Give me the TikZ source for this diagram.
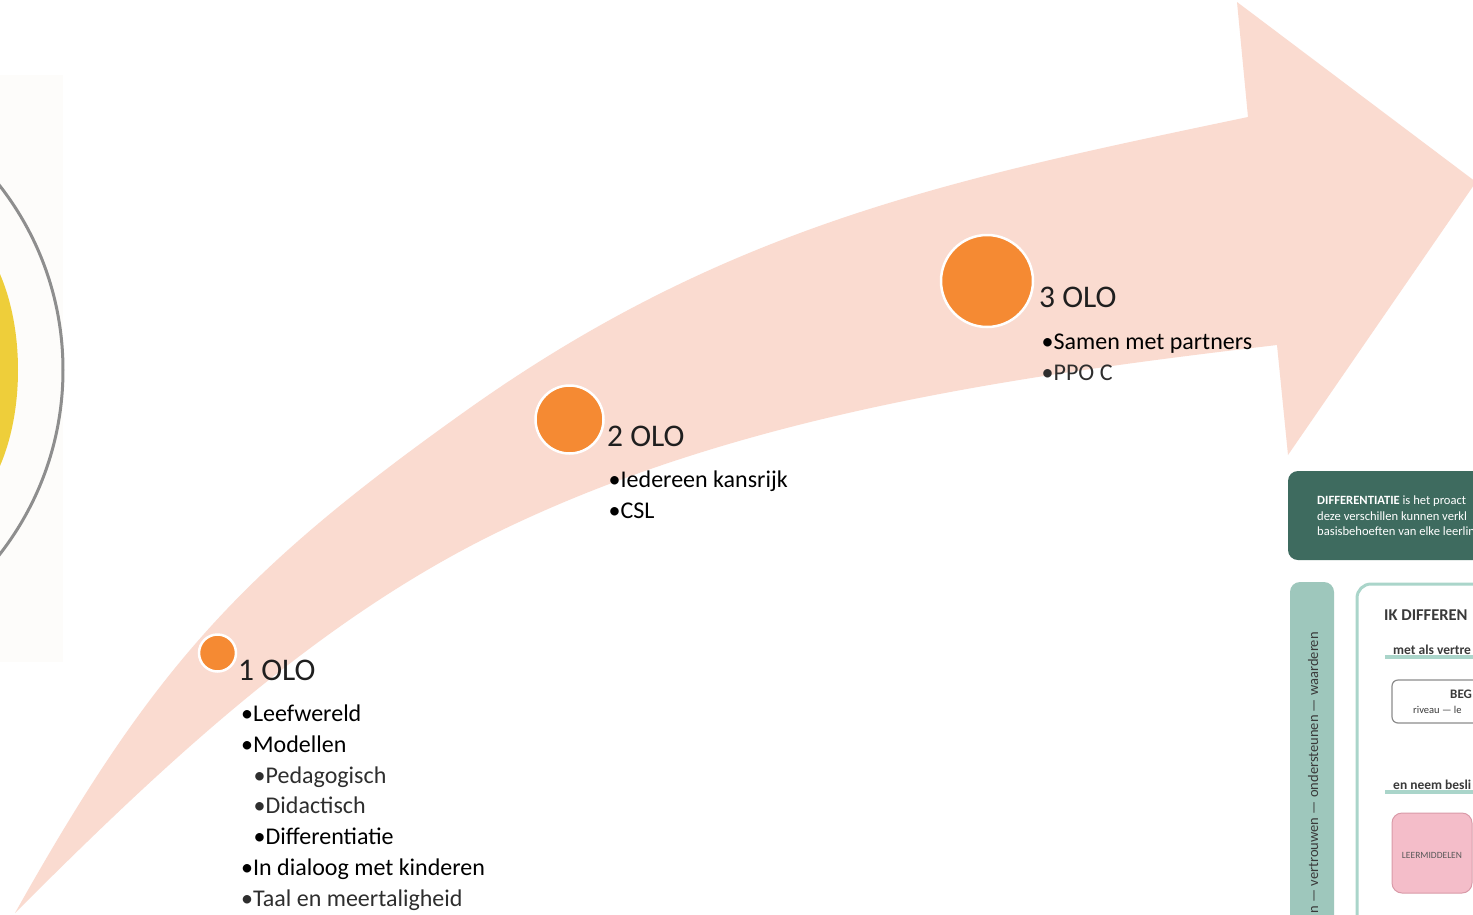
\documentclass[tikz,border=0pt]{standalone}
\usepackage{fontspec}
\setmainfont{Carlito}
\definecolor{arrowpink}{HTML}{FADBD0}
\definecolor{olorange}{HTML}{F58A33}
\definecolor{ringgray}{HTML}{8E8E8E}
\definecolor{sunyellow}{HTML}{EECE3A}
\definecolor{offwhite}{HTML}{FDFCFA}
\definecolor{darkgreen}{HTML}{3E6B5F}
\definecolor{tealbar}{HTML}{9EC7BC}
\definecolor{tealline}{HTML}{AAD5CA}
\definecolor{pinkbox}{HTML}{F4BDC9}
\definecolor{pinkedge}{HTML}{D99AA8}
\definecolor{txtgray}{HTML}{3A3A3A}
\begin{document}
\begin{tikzpicture}[x=1pt,y=-1pt,
  dot/.style={circle, fill=olorange, draw=white, line width=2.5pt, inner sep=0pt},
  ttl/.style={anchor=base west, inner sep=0pt, font=\fontsize{31.5}{31.5}\selectfont, text=black!88},
  itm/.style={anchor=base west, inner sep=0pt, font=\fontsize{24}{24}\selectfont, text=black},
  lite/.style={text=black!82},
  small/.style={anchor=base west, inner sep=0pt, font=\fontsize{13}{13}\selectfont, text=txtgray},
  gtext/.style={anchor=base west, inner sep=0pt, font=\fontsize{12.6}{12.6}\selectfont, text=white}]
\useasboundingbox (0,0) rectangle (1473,914);
\clip (0,0) rectangle (1473,914);
\fill[white] (0,0) rectangle (1473,914);
% left partial image
\fill[offwhite] (0,75) rectangle (63,662);
\fill[sunyellow] (-60,370) ellipse [x radius=78pt, y radius=150pt];
\draw[ringgray, line width=3pt] (-237,370) circle (300pt);
% arrow
\fill[arrowpink] (15,913) .. controls (152,669) and (239,572) .. (467,410)
  .. controls (727.8,224.7) and (954.3,178.5) .. (1248,117)
  -- (1237,2) -- (1476,182) -- (1288,455) -- (1277,345)
  .. controls (1012.9,376.1) and (739.4,415) .. (500,531)
  .. controls (315.5,620.4) and (160,768) .. (15,913) -- cycle;
% milestones
\node[dot, minimum size=37pt] (c1) at (217.5,653) {};
\node[dot, minimum size=68pt] (c2) at (569.5,419.5) {};
\node[dot, minimum size=92pt] (c3) at (987,281) {};
\node[ttl] (t1) at (238,680) {1 OLO};
\node[ttl] (t2) at (607,446) {2 OLO};
\node[ttl] (t3) at (1039,307) {3 OLO};
\node[itm] (a1) at (241,721.5) {•Leefwereld};
\node[itm] (a2) at (241,752.3) {•Modellen};
\node[itm, lite] (a3) at (253.5,783.1) {•Pedagogisch};
\node[itm, lite] (a4) at (253.5,813.9) {•Didactisch};
\node[itm] (a5) at (253.5,844.7) {•Differentiatie};
\node[itm] (a6) at (241,875.5) {•In dialoog met kinderen};
\node[itm, lite] (a7) at (241,906.3) {•Taal en meertaligheid};
\node[itm] (b1) at (608.5,487.7) {•Iedereen kansrijk};
\node[itm] (b2) at (608.5,518) {•CSL};
\node[itm] (d1) at (1041.5,349) {•Samen met partners};
\node[itm, lite] (d2) at (1041.5,380) {•PPO C};
% bottom-right partial image
\fill[darkgreen, rounded corners=10pt] (1288,471) rectangle (1520,560);
\node[gtext] (g1) at (1317,504) {\textbf{DIFFERENTIATIE} is het proact};
\node[gtext] (g2) at (1317,520) {deze verschillen kunnen verkl};
\node[gtext] (g3) at (1317,535) {basisbehoeften van elke leerlin};
\fill[tealbar, rounded corners=10pt] (1290,582) rectangle (1334,960);
\node[small, font=\fontsize{14.5}{14.5}\selectfont, rotate=90, anchor=base east] (vt) at (1318,632) {n — vertrouwen — ondersteunen — waarderen};
\draw[tealline, line width=3pt, fill=white, rounded corners=14pt] (1357,584) rectangle (1540,980);
\node[small, font=\fontsize{16.5}{16.5}\selectfont\bfseries] (ik) at (1384,620) {IK DIFFEREN};
\draw[tealline, line width=4pt] (1385,657) -- (1480,657);
\node[small, font=\fontsize{13.5}{13.5}\selectfont\bfseries] (m1) at (1393,654) {met als vertre};
\draw[black!45, line width=1.2pt, fill=white, rounded corners=6pt] (1392,680) rectangle (1520,723);
\node[small, font=\fontsize{13}{13}\selectfont\bfseries] (beg) at (1450,698) {BEG};
\node[small, font=\fontsize{10.5}{10.5}\selectfont] (niv) at (1413,713) {riveau — le};
\draw[tealline, line width=4pt] (1385,792) -- (1480,792);
\node[small, font=\fontsize{13.5}{13.5}\selectfont\bfseries] (m2) at (1393,789) {en neem besli};
\draw[pinkedge, line width=1pt, fill=pinkbox, rounded corners=10pt] (1392,813) rectangle (1472,893);
\node[inner sep=0pt, font=\fontsize{9.5}{9.5}\selectfont, text=black!65] (lm) at (1432,855) {LEERMIDDELEN};
\end{tikzpicture}
\end{document}
